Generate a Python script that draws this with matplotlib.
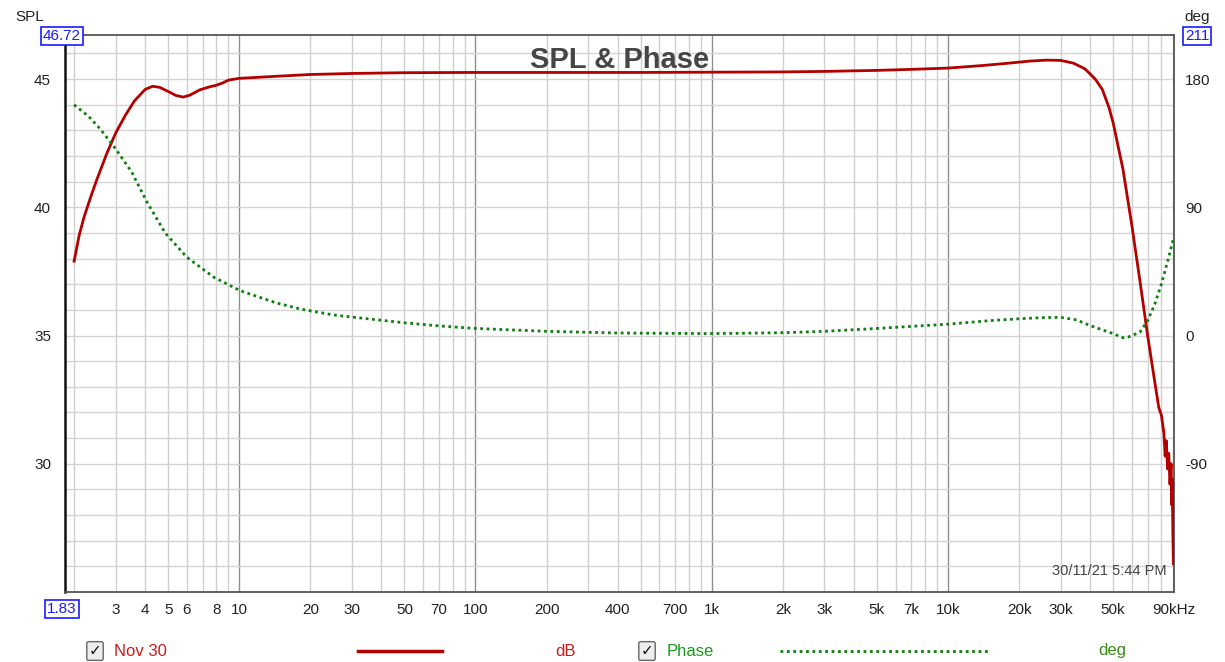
import matplotlib.pyplot as plt
from matplotlib.ticker import FixedLocator, NullFormatter

plt.rcParams['font.family'] = ['Liberation Sans', 'DejaVu Sans']
plt.rcParams['axes.unicode_minus'] = False

# SPL trace (Hz, dB)
spl_freq = [2, 2.1, 2.2, 2.35, 2.5, 2.75, 3, 3.3, 3.6, 4.0, 4.3, 4.6, 5.0, 5.4, 5.8,
            6.2, 6.8, 7.5, 8.0, 8.5, 9.0, 10, 12, 15, 20, 30, 50, 100, 200, 500,
            1000, 2000, 3000, 5000, 7000, 10000, 14000, 18000, 22000, 26000, 30000,
            34000, 38000, 42000, 45000, 48000, 50000, 55000, 60000, 65000, 70000,
            75000, 78000, 80000, 82000, 83000, 84000, 85000, 86000, 87000, 88000,
            88500, 89000, 89500, 90000]
spl_db = [37.9, 38.9, 39.6, 40.4, 41.1, 42.1, 42.9, 43.6, 44.15, 44.6, 44.72, 44.68,
          44.52, 44.36, 44.3, 44.38, 44.58, 44.7, 44.76, 44.85, 44.96, 45.03, 45.07,
          45.12, 45.18, 45.22, 45.25, 45.26, 45.26, 45.26, 45.27, 45.28, 45.3, 45.34,
          45.38, 45.43, 45.53, 45.62, 45.7, 45.74, 45.73, 45.62, 45.4, 45.0, 44.6,
          43.9, 43.3, 41.5, 39.3, 37.1, 35.0, 33.2, 32.2, 31.9, 31.2, 30.3, 30.9,
          29.8, 30.4, 29.2, 30.0, 28.4, 29.4, 27.3, 26.1]

# Phase trace (Hz, deg)
ph_freq = [2, 2.3, 2.58, 3.0, 3.5, 4.06, 4.86, 6.0, 7.8, 10.1, 14.3, 18.2, 25, 30,
           50, 70, 100, 200, 400, 1000, 2000, 3000, 5000, 10000, 15000, 20000,
           25000, 30000, 35000, 40000, 45000, 50000, 55000, 58000, 62000, 65000,
           70000, 75000, 80000, 85000, 90000]
ph_deg = [162, 154, 145, 131, 115, 94, 72, 55, 41, 31.5, 23, 18.6, 14.5, 13, 9,
          6.8, 5, 3, 1.8, 1.4, 2, 3, 5, 8, 10.5, 11.8, 12.6, 12.8, 11, 7, 4, 1.4,
          -1.5, -1, 1, 2.5, 10.5, 22, 36, 52, 68]

xtick_vals = [3, 4, 5, 6, 8, 10, 20, 30, 50, 70, 100, 200, 400, 700, 1000, 2000,
              3000, 5000, 7000, 10000, 20000, 30000, 50000, 90000]
xtick_text = ['3', '4', '5', '6', '8', '10', '20', '30', '50', '70', '100', '200',
              '400', '700', '1k', '2k', '3k', '5k', '7k', '10k', '20k', '30k',
              '50k', '90kHz']

x_min, x_max = 1.83, 90500
spl_min, spl_max = 25.0, 46.72
deg_min, deg_max = -180, 211

fig = plt.figure(figsize=(12.25, 6.62), dpi=100)
ax = fig.add_axes([65 / 1225, 1 - 592 / 662, (1174 - 65) / 1225, (592 - 35) / 662])
ax.set_xscale('log')
ax.set_xlim(x_min, x_max)
ax.set_ylim(spl_min, spl_max)

# grid
minor_x = [m * 10 ** d for d in range(0, 5) for m in range(2, 10)]
minor_x = [v for v in minor_x if x_min < v < x_max]
for v in minor_x:
    ax.axvline(v, color='#cfcfcf', lw=1.0, zorder=0)
for v in [10, 100, 1000, 10000]:
    ax.axvline(v, color='#8f8f8f', lw=1.0, zorder=0)
for v in range(26, 47):
    ax.axhline(v, color='#d4d4d4', lw=1.0, zorder=0)

ax.xaxis.set_major_locator(FixedLocator(xtick_vals))
ax.set_xticklabels(xtick_text)
ax.xaxis.set_minor_locator(FixedLocator([]))
ax.xaxis.set_minor_formatter(NullFormatter())
ax.set_yticks([30, 35, 40, 45])
ax.tick_params(axis='both', length=0, labelsize=11, colors='#222222')
ax.tick_params(axis='x', pad=8)
ax.tick_params(axis='y', pad=10)

for s in ax.spines.values():
    s.set_color('#555555')
    s.set_linewidth(1.3)
ax.spines['left'].set_color('#111111')
ax.spines['left'].set_linewidth(1.8)

ax.plot(spl_freq, spl_db, color='#b30000', lw=2.0, zorder=4)

ax2 = ax.twinx()
ax2.set_ylim(deg_min, deg_max)
ax2.set_yticks([-90, 0, 90, 180])
ax2.tick_params(axis='y', length=0, labelsize=11, colors='#222222', pad=8)
for s in ax2.spines.values():
    s.set_visible(False)
ax2.plot(ph_freq, ph_deg, color='#0c7f0c', lw=2.0, linestyle=(0, (1, 1.3)), zorder=3)

ax2.text(0.5, 0.955, 'SPL & Phase', transform=ax.transAxes, ha='center', va='center',
         fontsize=21, fontweight='bold', color='#454545', zorder=6)
ax.text(0.993, 0.025, '30/11/21 5:44 PM', transform=ax.transAxes, ha='right',
        va='bottom', fontsize=10.5, color='#444444', zorder=6)

# axis names and value boxes
fig.text(30 / 1225, 1 - 17 / 662, 'SPL', ha='center', va='center', fontsize=11, color='#222222')
fig.text(1197 / 1225, 1 - 17 / 662, 'deg', ha='center', va='center', fontsize=11, color='#222222')
box = dict(boxstyle='square,pad=0.15', fc='white', ec='#1a1aff', lw=1.2)
fig.text(62 / 1225, 1 - 36 / 662, '46.72', ha='center', va='center', fontsize=11,
         color='#1a1aff', bbox=box)
fig.text(1197 / 1225, 1 - 36 / 662, '211', ha='center', va='center', fontsize=11,
         color='#1a1aff', bbox=box)
fig.text(62 / 1225, 1 - 609 / 662, '1.83', ha='center', va='center', fontsize=11,
         color='#1a1aff', bbox=box)

# legend row
ly = 1 - 651 / 662
chk = dict(boxstyle='round,pad=0.12', fc='#eeeeee', ec='#666666', lw=1.0)
fig.text(95 / 1225, ly, '✓', ha='center', va='center', fontsize=11, color='#111111',
         fontweight='bold', bbox=chk, family=['DejaVu Sans'])
fig.text(114 / 1225, ly, 'Nov 30', ha='left', va='center', fontsize=12, color='#cc1a1a')
fig.add_artist(plt.Line2D([358 / 1225, 442 / 1225], [ly, ly], color='#b30000', lw=2.5))
fig.text(565 / 1225, ly, 'dB', ha='center', va='center', fontsize=12, color='#cc1a1a')
fig.text(647 / 1225, ly, '✓', ha='center', va='center', fontsize=11, color='#111111',
         fontweight='bold', bbox=chk, family=['DejaVu Sans'])
fig.text(667 / 1225, ly, 'Phase', ha='left', va='center', fontsize=12, color='#1a9a1a')
fig.add_artist(plt.Line2D([780 / 1225, 990 / 1225], [ly, ly], color='#0c7f0c', lw=2.0,
                          linestyle=(0, (1, 1.3))))
fig.text(1112 / 1225, ly, 'deg', ha='center', va='center', fontsize=12, color='#3a8a1a')

fig.savefig('out.png', dpi=100)
